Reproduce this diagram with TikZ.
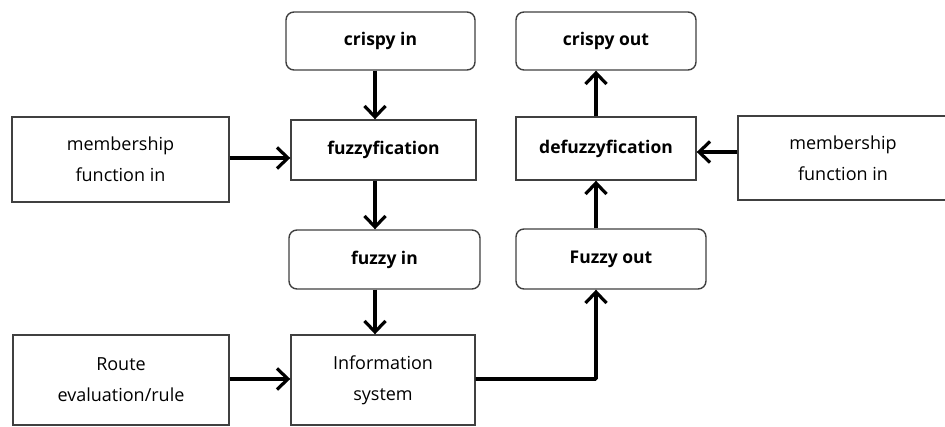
\documentclass[tikz,border=0pt]{standalone}
\usepackage{fontspec}
\setmainfont{Open Sans}
\usetikzlibrary{arrows.meta}
\begin{document}
\begin{tikzpicture}[x=1pt,y=-1pt,
  box/.style={draw=black!75,line width=1.4pt,fill=white,minimum width=#1,inner sep=0pt,align=center,font=\fontsize{18}{31}\selectfont},
  bbox/.style={box=#1,font=\fontsize{17.5}{31}\selectfont\bfseries},
  rbox/.style={bbox=#1,rounded corners=8pt},
  flow/.style={line width=3.8pt,-{Straight Barb[length=11pt,width=21pt,line width=3.2pt]}}
]
\useasboundingbox (0,0) rectangle (945,427);
\begin{scope}
\clip (0,0) rectangle (945,427);
\node[rbox=189pt,minimum height=58pt] (crin) at (380.5,41) {crispy in};
\node[rbox=180pt,minimum height=58pt] (crout) at (606,41) {crispy out};
\node[bbox=185pt,minimum height=60pt] (fuz) at (383.5,150) {fuzzyfication};
\node[bbox=180pt,minimum height=63pt] (defuz) at (606,148.5) {defuzzyfication};
\node[box=217pt,minimum height=85pt] (meml) at (120.5,159.5) {membership\\function in};
\node[box=210pt,minimum height=84pt] (memr) at (843,158) {membership\\function in};
\node[rbox=191pt,minimum height=59pt] (fin) at (384.5,259.5) {fuzzy in};
\node[rbox=190pt,minimum height=60pt] (fout) at (611,259) {Fuzzy out};
\node[box=216pt,minimum height=90pt] (route) at (121,380) {Route\\evaluation/rule};
\node[box=184pt,minimum height=90pt] (info) at (383,380) {Information\\system};
\end{scope}
\coordinate (cl) at (375,0);
\coordinate (cr) at (596,0);
\coordinate (ml) at (0,158);
\coordinate (mr) at (0,152);
\coordinate (rt) at (0,379);
\draw[flow] (crin.south -| cl) -- (fuz.north -| cl);
\draw[flow] (fuz.south -| cl) -- (fin.north -| cl);
\draw[flow] (fin.south -| cl) -- (info.north -| cl);
\draw[flow] (meml.east |- ml) -- (fuz.west |- ml);
\draw[flow] (route.east |- rt) -- (info.west |- rt);
\draw[flow,rounded corners=1pt] (info.east |- rt) -| (fout.south -| cr);
\draw[flow] (fout.north -| cr) -- (defuz.south -| cr);
\draw[flow] (defuz.north -| cr) -- (crout.south -| cr);
\draw[flow] (memr.west |- mr) -- (defuz.east |- mr);
\end{tikzpicture}
\end{document}
